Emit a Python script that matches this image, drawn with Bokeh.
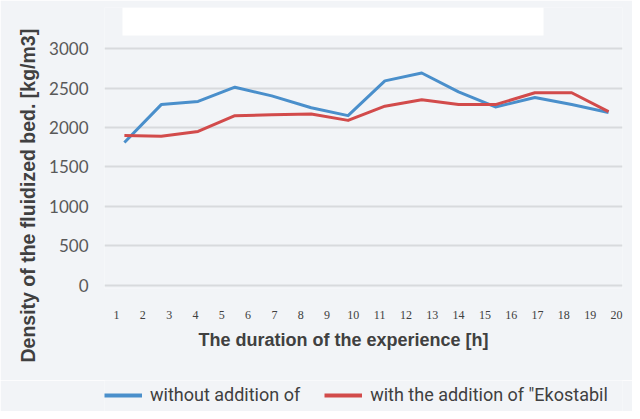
import math
from bokeh.plotting import figure
from bokeh.layouts import column
from bokeh.models import (Range1d, FixedTicker, Legend, LegendItem,
                          BoxAnnotation, Title)
from bokeh.embed import file_html
from bokeh.resources import INLINE

# ---- data ----
hours = [1.3, 2.7, 4.1, 5.5, 6.9, 8.4, 9.8, 11.2, 12.6, 14.0, 15.4, 16.9, 18.3, 19.7]
without_additive = [1810, 2290, 2330, 2510, 2400, 2250, 2150, 2590, 2690, 2450, 2260, 2380, 2290, 2190]
with_ekostabil = [1900, 1890, 1950, 2150, 2160, 2170, 2090, 2270, 2350, 2290, 2290, 2440, 2440, 2200]
x_ticks = list(range(1, 21))
y_ticks = [0, 500, 1000, 1500, 2000, 2500, 3000]
series_names = ["without addition of", "with the addition of \"Ekostabil"]
x_title = "The duration of the experience [h]"
y_title = "Density of the fluidized bed. [kg/m3]"

BG = "#f2f4f7"
BLUE = "#4a8fcb"
RED = "#d24b4b"
TXT = "#404040"

p = figure(width=632, height=380, output_backend="svg", toolbar_location=None,
           x_range=Range1d(0.544, 20.23), y_range=Range1d(-38, 3519),
           min_border_left=104, min_border_right=10, min_border_top=7,
           min_border_bottom=92)
p.background_fill_color = BG
p.border_fill_color = BG
p.outline_line_color = None

p.xgrid.grid_line_color = None
p.ygrid.grid_line_color = "#d8dadd"
p.ygrid.grid_line_width = 2
p.ygrid.ticker = FixedTicker(ticks=y_ticks)

p.xaxis.ticker = FixedTicker(ticks=x_ticks)
p.xaxis.axis_line_color = None
p.xaxis.major_tick_line_color = None
p.xaxis.minor_tick_line_color = None
p.xaxis.major_label_standoff = 16
p.xaxis.major_label_text_font = "Liberation Serif"
p.xaxis.major_label_text_font_size = "12px"
p.xaxis.major_label_text_color = TXT
p.xaxis.axis_label = x_title + "\u00a0" * 8
p.xaxis.axis_label_text_font = "Liberation Sans"
p.xaxis.axis_label_text_font_size = "18px"
p.xaxis.axis_label_text_font_style = "bold"
p.xaxis.axis_label_text_color = TXT
p.xaxis.axis_label_standoff = 8

p.yaxis.ticker = FixedTicker(ticks=y_ticks)
p.yaxis.axis_line_color = None
p.yaxis.major_tick_line_color = None
p.yaxis.minor_tick_line_color = None
p.yaxis.major_label_standoff = 10
p.yaxis.major_label_text_font = "Lato"
p.yaxis.major_label_text_font_size = "17px"
p.yaxis.major_label_text_color = "#595959"

p.line(hours, without_additive, line_color=BLUE, line_width=3, line_join="round")
p.line(hours, with_ekostabil, line_color=RED, line_width=3, line_join="round")

title_box = BoxAnnotation(left=122, right=543, top=7, bottom=35,
                          left_units="canvas", right_units="canvas",
                          top_units="canvas", bottom_units="canvas",
                          fill_color="white", fill_alpha=1, line_color=None)
p.add_layout(title_box)

ytitle = Title(text=y_title, align="left", offset=-74, vertical_align="middle",
               standoff=13, text_font="Liberation Sans",
               text_font_size="19.5px", text_font_style="bold",
               text_color=TXT)
p.add_layout(ytitle, "left")

# legend strip below the chart (its frame is aligned with the chart's frame)
lg = figure(width=632, height=31, output_backend="svg", toolbar_location=None,
            x_axis_type=None, y_axis_type=None, min_border=0,
            x_range=Range1d(0.544, 20.23), y_range=Range1d(0, 1))
lg.background_fill_color = BG
lg.border_fill_color = BG
lg.outline_line_color = None
lg.grid.grid_line_color = None
k1 = lg.line(hours, without_additive, line_color=BLUE, line_width=4)
k2 = lg.line(hours, with_ekostabil, line_color=RED, line_width=4)
legend = Legend(items=[LegendItem(label=series_names[0], renderers=[k1]),
                       LegendItem(label=series_names[1], renderers=[k2])],
                orientation="horizontal", location=(0, 6),
                border_line_color=None, background_fill_alpha=0,
                padding=0, margin=0, spacing=24, glyph_width=38,
                glyph_height=20, label_height=20, label_standoff=8,
                label_text_font="Roboto", label_text_font_size="18px",
                label_text_color=TXT)
lg.add_layout(legend, "center")

open("out.html", "w").write(file_html(column(p, lg, spacing=0), INLINE))
